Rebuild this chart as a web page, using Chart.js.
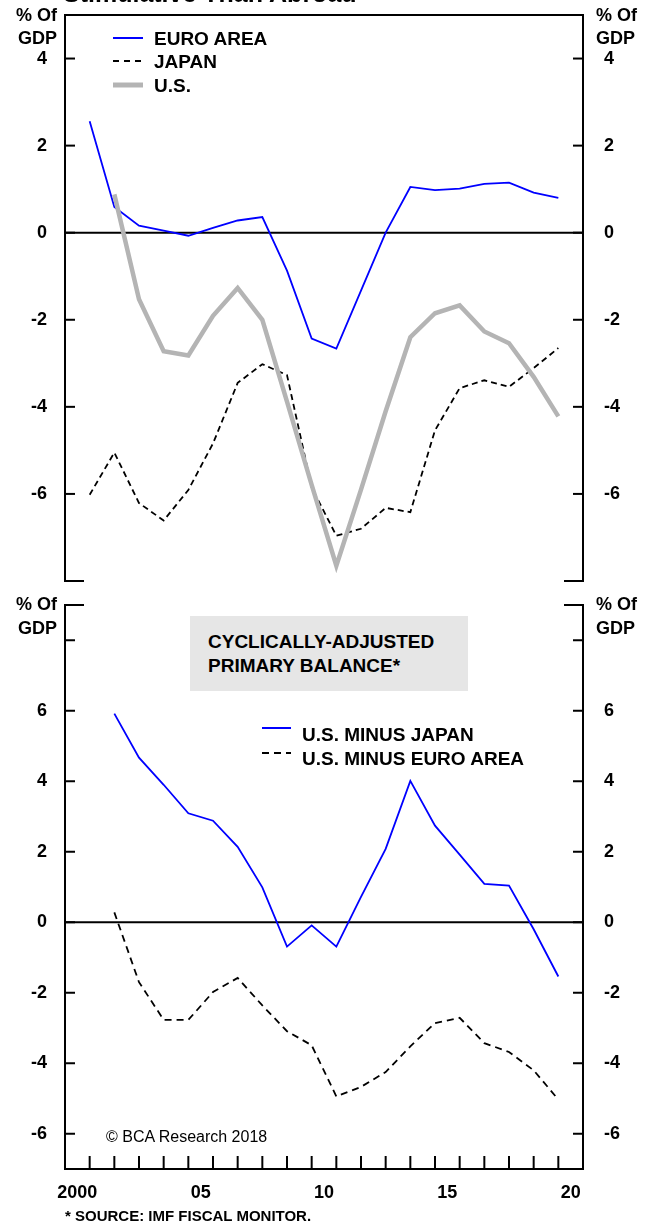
<!DOCTYPE html>
<html>
<head>
<meta charset="utf-8">
<script src="https://cdn.jsdelivr.net/npm/chart.js@4"></script>
<style>
body{margin:0;background:#fff}
#wrap{position:relative;width:658px;height:1228px;overflow:hidden;font-family:'Liberation Sans',Arial,sans-serif;color:#000}
canvas{position:absolute;left:0}
.t{position:absolute;font-weight:bold;line-height:1;white-space:nowrap;transform:translateY(-50%)}
.box{position:absolute;left:190px;top:616px;width:278px;height:75px;background:#e6e6e6}
</style>
</head>
<body>
<div id="wrap">
<canvas id="topChart" width="658" height="595" style="top:0"></canvas>
<canvas id="bottomChart" width="658" height="633" style="top:595px"></canvas>

<div class="t" style="left:63px;top:-19px;font-size:25px;transform:none">Stimulative Than Abroad</div>

<div class="t" style="right:601px;top:15px;font-size:18px">% Of</div>
<div class="t" style="right:601px;top:38px;font-size:18px">GDP</div>
<div class="t" style="left:596px;top:15px;font-size:18px">% Of</div>
<div class="t" style="left:596px;top:38px;font-size:18px">GDP</div>

<svg style="position:absolute;left:113px;top:30px" width="32" height="62">
  <line x1="0" y1="8" x2="30" y2="8" stroke="#0000ff" stroke-width="2"/>
  <line x1="0" y1="31" x2="30" y2="31" stroke="#000" stroke-width="2" stroke-dasharray="6,5"/>
  <line x1="0" y1="55" x2="30" y2="55" stroke="#b4b4b4" stroke-width="5"/>
</svg>
<div class="t" style="left:154px;top:38px;font-size:19px">EURO AREA</div>
<div class="t" style="left:154px;top:61px;font-size:19px">JAPAN</div>
<div class="t" style="left:154px;top:85px;font-size:19px">U.S.</div>

<div class="t" style="right:601px;top:604px;font-size:18px">% Of</div>
<div class="t" style="right:601px;top:628px;font-size:18px">GDP</div>
<div class="t" style="left:596px;top:604px;font-size:18px">% Of</div>
<div class="t" style="left:596px;top:628px;font-size:18px">GDP</div>

<div class="box"></div>
<div class="t" style="left:208px;top:641px;font-size:19px">CYCLICALLY-ADJUSTED</div>
<div class="t" style="left:208px;top:665px;font-size:19px">PRIMARY BALANCE*</div>

<svg style="position:absolute;left:262px;top:720px" width="32" height="40">
  <line x1="0" y1="8" x2="29" y2="8" stroke="#0000ff" stroke-width="2"/>
  <line x1="0" y1="33" x2="29" y2="33" stroke="#000" stroke-width="2" stroke-dasharray="7,5"/>
</svg>
<div class="t" style="left:302px;top:734px;font-size:19px">U.S. MINUS JAPAN</div>
<div class="t" style="left:302px;top:758px;font-size:19px">U.S. MINUS EURO AREA</div>

<div class="t" style="left:106px;top:1137px;font-size:16px;font-weight:normal">© BCA Research 2018</div>
<div class="t" style="left:65px;top:1215px;font-size:15px">* SOURCE: IMF FISCAL MONITOR.</div>
</div>

<script>
// top panel: budget balance, % of GDP
var yearsTop = [2001, 2002, 2003, 2004, 2005, 2006, 2007, 2008, 2009, 2010,
                2011, 2012, 2013, 2014, 2015, 2016, 2017, 2018, 2019, 2020];
var euroArea = [2.56, 0.59, 0.16, 0.05, -0.07, 0.11, 0.28, 0.36, -0.87, -2.43,
                -2.66, -1.33, 0.0, 1.05, 0.98, 1.01, 1.12, 1.15, 0.92, 0.80];
var japan = [-6.02, -5.05, -6.21, -6.61, -5.91, -4.84, -3.45, -3.02, -3.27, -5.85,
             -6.96, -6.80, -6.32, -6.42, -4.54, -3.57, -3.39, -3.54, -3.11, -2.65];
var unitedStates = [null, 0.88, -1.53, -2.72, -2.82, -1.91, -1.27, -2.00, -3.88, -5.79,
                    -7.65, -5.90, -4.10, -2.40, -1.85, -1.67, -2.27, -2.54, -3.31, -4.22];

// bottom panel: cyclically-adjusted primary balance differentials
var yearsBottom = [2002, 2003, 2004, 2005, 2006, 2007, 2008, 2009, 2010, 2011,
                   2012, 2013, 2014, 2015, 2016, 2017, 2018, 2019, 2020];
var usMinusJapan = [5.92, 4.67, 3.90, 3.09, 2.88, 2.14, 0.99, -0.69, -0.09, -0.69,
                    0.72, 2.08, 4.01, 2.74, 1.92, 1.09, 1.04, -0.20, -1.54];
var usMinusEuro = [0.28, -1.70, -2.77, -2.77, -1.98, -1.58, -2.36, -3.09, -3.49, -4.94,
                   -4.67, -4.25, -3.52, -2.86, -2.71, -3.43, -3.68, -4.20, -5.03];

var topTickLabels = [4, 2, 0, -2, -4, -6];
var bottomTickLabels = [6, 4, 2, 0, -2, -4, -6];
var xLabelYears = [2000, 2005, 2010, 2015, 2020];
var xTickLabels = ['2000', '05', '10', '15', '20'];

Chart.defaults.font.family = "'Liberation Sans', Arial, sans-serif";
Chart.defaults.color = '#000';

function pts(xs, ys) {
    return xs.map(function (x, i) { return {x: x, y: ys[i]}; });
}

function seg(ctx, x1, y1, x2, y2) {
    ctx.beginPath();
    ctx.moveTo(x1, y1);
    ctx.lineTo(x2, y2);
    ctx.stroke();
}

// axes frame, zero line and inward tick marks
var framePlugin = {
    id: 'frame',
    beforeDatasetsDraw: function (chart) {
        var ctx = chart.ctx, a = chart.chartArea;
        var y0 = chart.scales.y.getPixelForValue(0);
        ctx.save();
        ctx.strokeStyle = '#000';
        ctx.lineWidth = 2;
        seg(ctx, a.left, y0, a.right, y0);
        ctx.restore();
    },
    afterDatasetsDraw: function (chart, args, o) {
        var ctx = chart.ctx, a = chart.chartArea;
        var ys = chart.scales.y, xs = chart.scales.x;
        ctx.save();
        ctx.strokeStyle = '#000';
        ctx.lineWidth = 2;
        seg(ctx, a.left, a.top - 1, a.left, a.bottom + 1);
        seg(ctx, a.right, a.top - 1, a.right, a.bottom + 1);
        if (o.topFull) {
            seg(ctx, a.left - 1, a.top, a.right + 1, a.top);
        } else {
            seg(ctx, a.left - 1, a.top, a.left + 19, a.top);
            seg(ctx, a.right - 19, a.top, a.right + 1, a.top);
        }
        if (o.bottomFull) {
            seg(ctx, a.left - 1, a.bottom, a.right + 1, a.bottom);
        } else {
            seg(ctx, a.left - 1, a.bottom, a.left + 19, a.bottom);
            seg(ctx, a.right - 19, a.bottom, a.right + 1, a.bottom);
        }
        o.yMarks.forEach(function (v) {
            var py = ys.getPixelForValue(v);
            seg(ctx, a.left, py, a.left + 10, py);
            seg(ctx, a.right - 10, py, a.right, py);
        });
        if (o.xMarks) {
            for (var yr = o.xMarks[0]; yr <= o.xMarks[1]; yr++) {
                var px = xs.getPixelForValue(yr);
                seg(ctx, px, a.bottom, px, a.bottom - 13);
            }
        }
        ctx.restore();
    }
};

function yAxis(pos, min, max, labels) {
    return {
        type: 'linear',
        position: pos,
        min: min,
        max: max,
        grid: {display: false},
        border: {display: false},
        afterBuildTicks: function (s) {
            s.ticks = labels.map(function (v) { return {value: v}; });
        },
        afterFit: function (s) {
            s.width = pos == 'left' ? 65 : 75;
            s.paddingTop = 0;
            s.paddingBottom = 0;
        },
        ticks: {
            padding: pos == 'left' ? 10 : 13,
            font: {size: 18, weight: 'bold'},
            callback: function (v) { return String(v); }
        }
    };
}

new Chart(document.getElementById('topChart').getContext('2d'), {
    type: 'line',
    data: {
        datasets: [{
            label: 'U.S.',
            data: pts(yearsTop, unitedStates),
            borderColor: '#b4b4b4',
            borderWidth: 4.5,
            pointRadius: 0
        }, {
            label: 'JAPAN',
            data: pts(yearsTop, japan),
            borderColor: '#000',
            borderWidth: 1.8,
            borderDash: [6, 4],
            pointRadius: 0
        }, {
            label: 'EURO AREA',
            data: pts(yearsTop, euroArea),
            borderColor: '#0000ff',
            borderWidth: 1.8,
            pointRadius: 0
        }]
    },
    options: {
        responsive: false,
        animation: false,
        layout: {padding: {top: 15, bottom: 14, left: 0, right: 0}},
        scales: {
            x: {type: 'linear', min: 2000, max: 2021, display: false},
            y: yAxis('left', -8, 5, topTickLabels),
            y2: yAxis('right', -8, 5, topTickLabels)
        },
        plugins: {
            legend: {display: false},
            tooltip: {enabled: false},
            frame: {yMarks: topTickLabels, topFull: true, bottomFull: false}
        }
    },
    plugins: [framePlugin]
});

new Chart(document.getElementById('bottomChart').getContext('2d'), {
    type: 'line',
    data: {
        datasets: [{
            label: 'U.S. MINUS EURO AREA',
            data: pts(yearsBottom, usMinusEuro),
            borderColor: '#000',
            borderWidth: 1.8,
            borderDash: [7, 5],
            pointRadius: 0
        }, {
            label: 'U.S. MINUS JAPAN',
            data: pts(yearsBottom, usMinusJapan),
            borderColor: '#0000ff',
            borderWidth: 1.8,
            pointRadius: 0
        }]
    },
    options: {
        responsive: false,
        animation: false,
        layout: {padding: {top: 10, bottom: 0, left: 0, right: 0}},
        scales: {
            x: {
                type: 'linear',
                min: 2000,
                max: 2021,
                grid: {display: false},
                border: {display: false},
                afterBuildTicks: function (s) {
                    s.ticks = xLabelYears.map(function (v) { return {value: v + 0.5}; });
                },
                afterFit: function (s) {
                    s.height = 59;
                    s.paddingLeft = 0;
                    s.paddingRight = 0;
                },
                ticks: {
                    autoSkip: false,
                    maxRotation: 0,
                    padding: 5,
                    font: {size: 18, weight: 'bold'},
                    callback: function (v) {
                        return xTickLabels[xLabelYears.indexOf(Math.floor(v))];
                    }
                }
            },
            y: yAxis('left', -7, 9, bottomTickLabels),
            y2: yAxis('right', -7, 9, bottomTickLabels)
        },
        plugins: {
            legend: {display: false},
            tooltip: {enabled: false},
            frame: {yMarks: [8].concat(bottomTickLabels), topFull: false, bottomFull: true, xMarks: [2001, 2020]}
        }
    },
    plugins: [framePlugin]
});
</script>
</body>
</html>
